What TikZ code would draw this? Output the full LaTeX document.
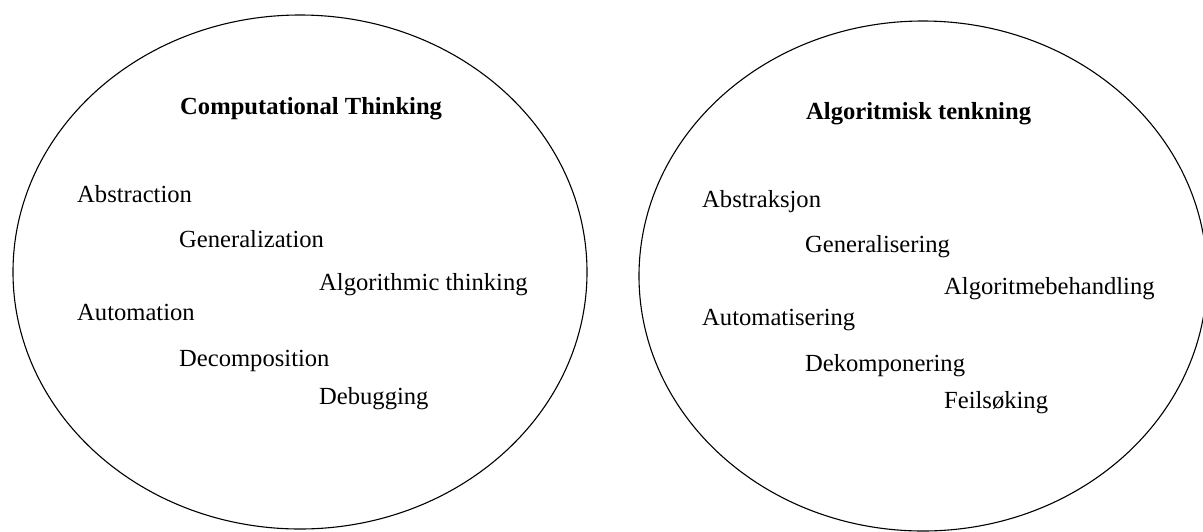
\documentclass[tikz,border=0pt]{standalone}
\usepackage{fontspec}
\setmainfont{Liberation Serif}
\usetikzlibrary{shapes.geometric, positioning}

\begin{document}
\begin{tikzpicture}[x=1pt, y=-1pt,
        circ/.style={ellipse, draw=black, line width=1.1pt, inner sep=0pt},
        title/.style={anchor=base west, inner sep=0pt, font=\fontsize{24.6}{28}\selectfont\bfseries},
        term/.style={anchor=base west, inner sep=0pt, font=\fontsize{24.6}{28}\selectfont}
    ]
        \useasboundingbox (0,0) rectangle (1203,531);

        % English side
        \node[circ, minimum width=574pt, minimum height=514pt] (ct) at (300,272) {};
        \node[title] (cttitle) at (180,114) {Computational Thinking};
        \node[term] (abs) at (77,202) {Abstraction};
        \node[term] (gen) at (179,247) {Generalization};
        \node[term] (alg) at (319,290) {Algorithmic thinking};
        \node[term] (aut) at (77,320) {Automation};
        \node[term] (dec) at (179,366) {Decomposition};
        \node[term] (deb) at (319,404) {Debugging};

        % Norwegian side
        \node[circ, minimum width=568pt, minimum height=510pt] (at) at (923,276) {};
        \node[title] (attitle) at (806,119) {Algoritmisk tenkning};
        \node[term] (abk) at (702,207) {Abstraksjon};
        \node[term] (gnr) at (805,252) {Generalisering};
        \node[term] (agb) at (944,294) {Algoritmebehandling};
        \node[term] (ams) at (702,325) {Automatisering};
        \node[term] (dkp) at (805,371) {Dekomponering};
        \node[term] (fsk) at (944,408) {Feilsøking};
    \end{tikzpicture}
\end{document}
